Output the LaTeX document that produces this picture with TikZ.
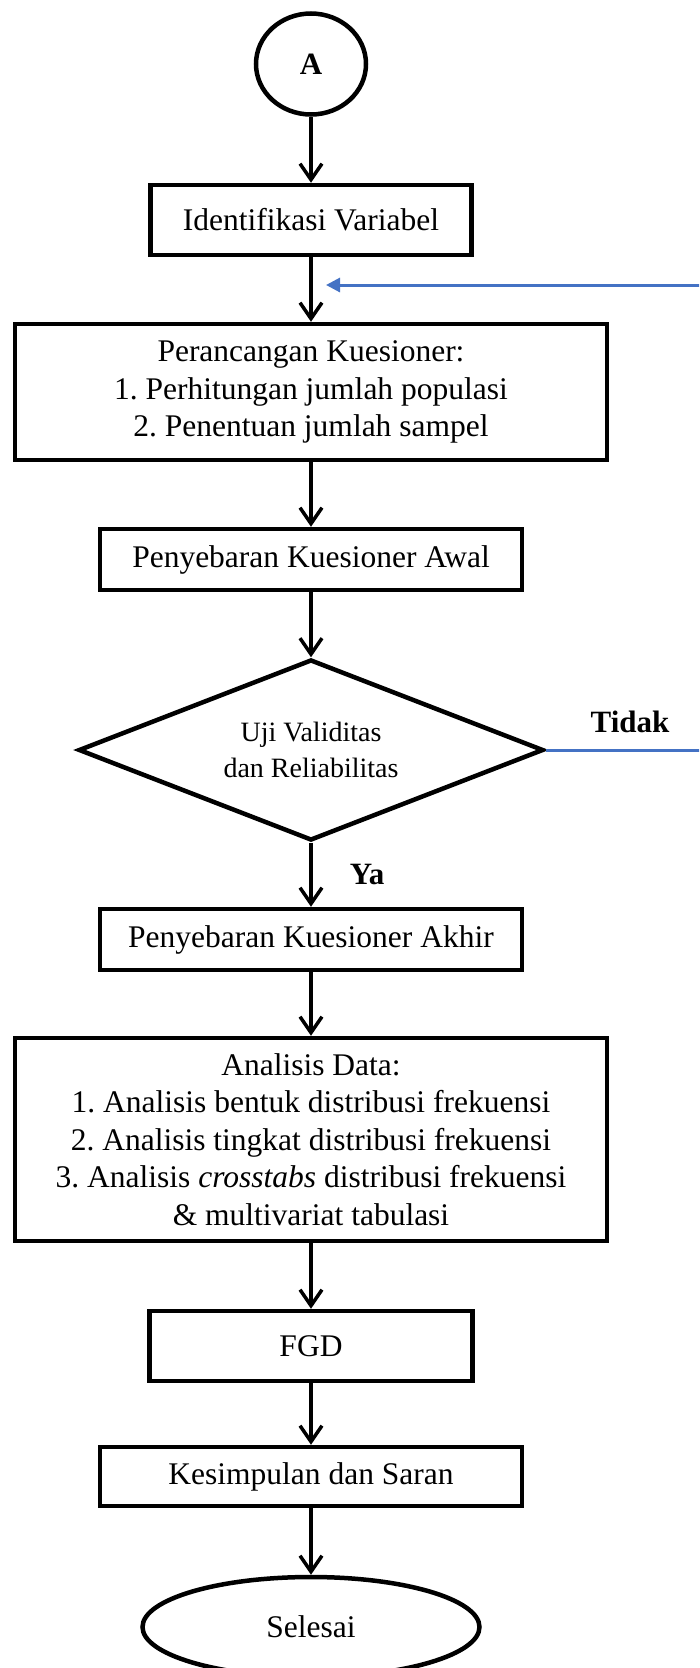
\documentclass[tikz,border=0pt]{standalone}
\usepackage{fontspec}
\setmainfont{Liberation Serif}
\frenchspacing
\usetikzlibrary{shapes.geometric,arrows.meta}
\definecolor{loopblue}{RGB}{68,114,196}
\def\midx{311}
\def\boxfont{\fontsize{31.5}{37.5}\selectfont}
\def\labfont{\fontsize{31}{36}\selectfont\bfseries}
\tikzset{
  box/.style={draw, line width=4.5pt, rectangle, inner sep=0pt, align=center, font=\boxfont},
  oval/.style={draw, line width=4.5pt, ellipse, inner sep=0pt},
  flow/.style={line width=3.5pt, -{Straight Barb[length=16pt,width=22pt]}},
  back/.style={loopblue, line width=3pt, -{Triangle[length=14pt,width=14pt]}},
  lbl/.style={font=\labfont},
}

\begin{document}
\begin{tikzpicture}[x=1pt, y=-1pt]
\useasboundingbox (0,0) rectangle (699,1668);
\clip (0,0) rectangle (699,1668);
\node [oval, minimum width=110pt, minimum height=101pt, font=\labfont] (a) at (\midx,64) {A};
\node [box, minimum width=321pt, minimum height=70pt] (iden) at (\midx,220) {Identifikasi Variabel};
\node [box, minimum width=592pt, minimum height=136pt] (peran) at (\midx,392)
  {Perancangan Kuesioner:\\1. Perhitungan jumlah populasi\\2. Penentuan jumlah sampel};
\node [box, minimum width=422pt, minimum height=61pt] (awal) at (\midx,559.5) {Penyebaran Kuesioner Awal};
\node [diamond, draw, line width=4.5pt, aspect=2.57, minimum width=465pt, minimum height=181pt,
  inner sep=0pt, align=center, font=\fontsize{28}{36}\selectfont] (uji) at (\midx,750)
  {Uji Validitas\\dan Reliabilitas};
\node [box, minimum width=422pt, minimum height=61pt] (akhir) at (\midx,939.5) {Penyebaran Kuesioner Akhir};
\node [box, minimum width=592pt, minimum height=203pt] (anal) at (\midx,1139.5)
  {Analisis Data:\\1. Analisis bentuk distribusi frekuensi\\2. Analisis tingkat distribusi frekuensi\\
   3. Analisis \textit{crosstabs} distribusi frekuensi\\\& multivariat tabulasi};
\node [box, minimum width=323pt, minimum height=70pt] (fgd) at (\midx,1346) {FGD};
\node [box, minimum width=422pt, minimum height=59pt] (kes) at (\midx,1476.5) {Kesimpulan dan Saran};
\node [oval, minimum width=337pt, minimum height=100pt, font=\boxfont] (sel) at (\midx,1627) {Selesai};

% decision labels
\node [lbl] (tidak) at (630,722) {Tidak};
\node [lbl] (ya) at (367,874) {Ya};

% main flow
\foreach \from/\to in {a/iden, iden/peran, peran/awal, awal/uji, uji/akhir, akhir/anal, anal/fgd, fgd/kes, kes/sel}
  \draw [flow] (\from) -- (\to);

% loop back (runs off the page)
\coordinate (backin) at (326,285);
\coordinate (offpage) at (740,750);
\draw [back] (uji.east) -- (offpage) |- (backin);
\end{tikzpicture}
\end{document}
